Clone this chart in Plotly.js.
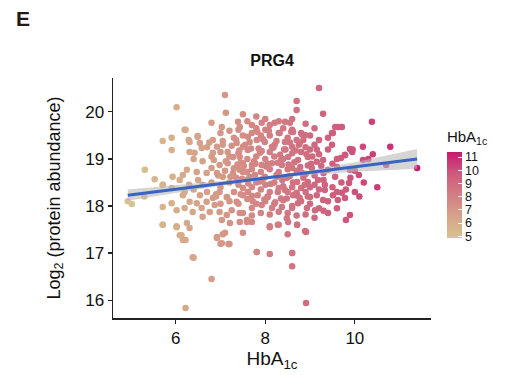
<!DOCTYPE html>
<html>
<head>
<meta charset="utf-8">
<script src="https://cdn.plot.ly/plotly-3.0.1.min.js"></script>
<style>html,body{margin:0;padding:0;background:#fff;}#chart{width:509px;height:375px;}</style>
</head>
<body>
<div id="chart"></div>
<script>
// HbA1c values (x) and Log2 protein abundance (y)
const hba1c = [
4.93,5.02,5.31,5.53,5.71,5.3,
6.02,7.1,7.12,9.2,8.7,8.7,9.29,10.38,10.79,11.39,10.18,10.7,10.18,9.62,9.71,9.49,9.89,9.78,9.69,10.09,9.89,9.87,9.89,
8.91,8.5,8.1,8.3,8.71,8.6,8.1,8.6,8.91,6.22,6.8,6.4,7.81,6.22,6.13,5.71,6.02,6.92,7.1,7.0,7.2,7.5,
5.71,5.91,5.91,6.22,6.29,6.49,
6.8,7.03,7.39,7.43,6.2,6.49,6.31,6.54,6.31,6.42,6.58,6.83,6.92,6.83,7.05,7.16,7.36,7.5,7.28,7.43,7.5,7.16,6.98,6.8,6.69,6.47,6.25,6.16,5.93,6.09,5.71,6.92,7.05,7.28,7.43,7.59,
7.7,7.92,8.1,8.21,8.44,8.55,8.62,8.89,8.77,9.56,9.51,9.49,9.78,9.94,
7.61,7.81,7.99,8.21,8.44,8.6,7.61,7.88,8.1,8.33,8.51,8.73,8.95,9.15,9.29,9.4,9.6,9.04,8.82,8.6,8.37,8.15,7.92,7.7,7.77,7.99,8.26,8.48,8.71,8.95,9.18,9.33,9.56,
5.71,5.91,6.02,6.2,6.31,6.47,6.38,6.58,6.69,6.83,6.6,6.76,6.87,6.98,7.14,7.03,7.25,7.43,7.43,7.21,7.59,7.36,7.5,7.14,6.98,6.54,6.16,5.91,5.71,6.02,6.25,6.31,6.09,6.16,6.92,7.05,7.03,7.18,6.38,
7.61,7.83,8.06,8.28,8.44,8.62,8.77,9.0,9.15,9.33,9.51,9.71,9.78,9.62,9.29,7.7,7.92,8.15,8.37,8.6,8.73,8.93,9.11,8.48,8.51,8.28,8.1,7.7,7.59,8.71,8.89,7.81,8.6,
7.2,7.4,7.6,7.8,8.0,8.2,8.4,8.6,8.8,9.0,9.2,
7.3,7.5,7.7,7.9,8.1,8.3,8.5,8.7,8.9,9.1,
7.1,7.3,7.5,7.7,7.9,8.1,8.3,8.5,8.7,8.9,9.1,9.3,
7.2,7.4,7.6,7.8,8.0,8.2,8.4,8.6,8.8,9.0,
7.3,7.5,7.7,7.9,8.1,8.3,8.5,8.7,8.9,9.1,
7.0,7.2,7.4,7.8,8.0,8.4,8.6,
6.6,6.8,7.0,6.7,6.9,6.5,6.4,6.3,6.2,6.6,6.8,7.0,6.4,6.7,
7.6,7.8,8.0,8.2,8.4,8.6,8.8,9.0,7.4,7.2,7.0,
7.5,7.7,7.9,8.1,8.3,8.5,8.7,8.9,9.1,9.3,
9.2,9.4,9.6,9.5,9.3,9.5,9.7,9.9,9.6,9.4,9.2,9.4,9.6,9.8,10.0,10.2,10.0,
8.8,9.0,9.2,9.4,8.3,8.0,7.6,7.5,7.8,8.6,8.9,9.1,
7.35,7.65,7.95,8.25,8.55,8.85,7.45,7.75,8.05,8.35,8.65,8.95,9.25,7.25,7.55,7.85,8.15,8.45,8.75,9.05,
6.9,7.15,7.45,7.7,8.05,8.35,8.65,8.95,6.75,7.05,7.35,7.65,7.95,8.25,8.55,8.85,9.15,
10.3,10.5,10.1,9.8,10.4,9.95,
7.62,7.88,8.12,8.38,8.62,8.88,7.52,7.78,8.02,8.28,8.52,8.78,9.02,7.42,7.68,7.92,8.18,8.42,8.68,8.92,
7.72,7.98,8.22,8.48,8.72,7.82,8.08,8.32,8.58,8.82,6.95,7.22,7.48,6.85,7.12,7.38
];
const abundance = [
18.1,18.04,18.77,18.57,18.45,18.2,
20.1,20.36,19.98,20.51,20.23,20.04,19.96,19.79,19.26,18.81,19.26,18.87,18.98,19.68,19.68,19.55,19.21,19.08,19.02,18.66,18.77,18.49,17.81,
17.45,17.4,17.57,17.6,17.6,17.0,16.98,16.72,15.94,15.83,16.45,16.9,17.02,17.28,17.38,17.6,17.57,17.32,17.43,17.2,17.19,17.43,
19.38,19.45,19.19,19.62,19.4,19.47,
19.77,19.68,19.79,19.68,19.62,19.49,19.36,19.34,19.15,19.13,19.23,19.4,19.26,19.13,19.3,19.15,19.34,19.26,19.04,19.04,18.91,18.91,18.87,18.81,18.7,18.72,18.77,18.66,18.62,18.55,18.45,18.7,18.62,18.7,18.77,18.72,
19.72,19.77,19.72,19.77,19.79,19.77,19.57,19.51,19.34,19.68,19.55,19.3,19.09,19.15,
19.47,19.4,19.36,19.3,19.36,19.26,19.19,19.13,19.15,19.09,19.04,18.98,19.04,18.94,18.98,18.77,18.83,18.81,18.7,18.81,18.87,18.91,18.87,18.87,18.66,18.62,18.62,18.6,18.51,18.51,18.55,18.45,18.62,
17.98,18.06,17.91,17.96,18.09,18.06,17.87,17.96,18.09,18.17,17.77,17.87,18.02,17.87,17.81,17.7,17.91,17.85,17.66,17.64,17.7,18.09,18.23,18.19,18.3,18.23,18.23,18.38,17.6,17.55,17.64,17.53,17.38,17.28,17.34,17.4,17.21,17.19,16.91,
18.3,18.23,18.19,18.3,18.34,18.23,18.17,18.19,18.23,18.34,18.23,18.28,18.17,18.13,18.13,17.96,18.02,17.96,17.98,17.96,18.06,17.96,17.91,17.74,17.66,17.6,17.55,17.66,17.66,17.6,17.47,17.02,17.0,
18.5,18.45,18.55,18.5,18.45,18.5,18.42,18.4,18.38,18.4,18.35,
18.3,18.38,18.4,18.35,18.3,18.38,18.3,18.28,18.3,18.45,
18.75,18.8,18.72,18.78,18.72,18.78,18.72,18.78,18.75,18.68,18.65,18.7,
19.05,19.12,19.0,19.05,19.0,19.05,19.0,19.12,19.15,19.2,
19.45,19.5,19.55,19.5,19.5,19.55,19.45,19.4,19.25,19.3,
19.55,19.6,19.62,19.65,19.62,19.65,19.62,
18.45,18.5,18.4,18.3,18.25,18.55,18.35,18.45,18.3,18.95,19.05,19.15,19.0,19.25,
18.15,18.05,18.1,18.05,18.12,18.0,18.1,18.05,18.05,18.1,18.05,
17.85,17.8,17.85,17.82,17.88,17.85,17.8,17.82,17.75,17.9,
19.1,19.2,19.0,18.9,18.55,18.4,18.5,18.6,18.3,18.1,17.95,17.85,17.95,18.35,18.75,18.5,18.3,
19.55,19.5,19.4,19.45,19.8,19.85,19.8,19.95,19.9,19.85,19.75,19.65,
18.6,18.62,18.58,18.66,18.64,18.6,18.92,18.95,18.9,18.97,18.93,18.86,18.85,19.28,19.3,19.22,19.26,19.2,19.3,19.05,
18.2,18.18,18.25,18.22,18.2,18.16,18.24,18.2,19.35,19.38,19.4,19.36,19.42,19.38,19.35,19.4,19.2,
19.0,18.4,18.2,17.7,19.1,19.2,
18.48,18.52,18.47,18.55,18.5,18.45,18.85,18.9,18.84,18.92,18.88,18.83,18.9,19.18,19.22,19.17,19.24,19.2,19.18,19.1,
18.1,18.14,18.08,18.16,18.22,19.58,19.6,19.55,19.58,19.52,18.65,18.62,18.58,18.98,18.95,18.88
];
// fitted regression line and 95% band
const fitX = [4.93, 11.39];
const fitY = [18.23, 19.0];
const bandX = [4.93, 6, 7, 8, 9, 10, 11.39];
const bandLo = [18.11, 18.28, 18.43, 18.57, 18.66, 18.73, 18.79];
const bandHi = [18.35, 18.44, 18.53, 18.63, 18.76, 18.93, 19.21];
const colorTicks = [5, 6, 7, 8, 9, 10, 11];

const polyX = bandX.concat(bandX.slice().reverse());
const polyY = bandHi.concat(bandLo.slice().reverse());

const font = 'Liberation Sans, Arial, sans-serif';
const traces = [
  {
    x: hba1c, y: abundance, type: 'scatter', mode: 'markers',
    marker: {
      size: 6.5, color: hba1c, cmin: 4.9, cmax: 11.4,
      colorscale: [[0, '#d8c48f'], [0.25, '#d6a389'], [0.5, '#d27e83'], [0.75, '#cd5a7d'], [1, '#c8186e']],
      line: {width: 0},
      colorbar: {
        title: {text: 'HbA<sub>1c</sub>', side: 'top', font: {size: 15, family: font, color: '#111'}},
        tickvals: colorTicks, ticktext: colorTicks.map(String),
        ticks: 'inside', ticklen: 4, tickcolor: '#ffffff', tickwidth: 1,
        tickfont: {size: 12.5, family: font, color: '#111'},
        thickness: 15, thicknessmode: 'pixels', len: 110, lenmode: 'pixels',
        x: 1.05, xanchor: 'left', y: 0.335, yanchor: 'bottom',
        outlinewidth: 0, xpad: 0, ypad: 0
      }
    },
    showlegend: false, hoverinfo: 'skip'
  },
  {
    x: polyX, y: polyY, type: 'scatter', mode: 'lines', fill: 'toself',
    fillcolor: 'rgba(185,185,185,0.6)', line: {width: 0}, showlegend: false, hoverinfo: 'skip'
  },
  {
    x: fitX, y: fitY, type: 'scatter', mode: 'lines',
    line: {color: '#3a63c2', width: 3}, showlegend: false, hoverinfo: 'skip'
  }
];

const layout = {
  width: 509, height: 375,
  margin: {l: 113, r: 78, t: 78, b: 57},
  paper_bgcolor: '#fff', plot_bgcolor: '#fff',
  font: {family: font, color: '#111'},
  title: {text: '<b>PRG4</b>', x: 0.5, xref: 'paper', xanchor: 'center', y: 0.84, yref: 'container', yanchor: 'middle', font: {size: 16, family: font, color: '#111'}},
  xaxis: {
    range: [4.6, 11.7], tickvals: [6, 8, 10], ticks: 'outside', ticklen: 4, tickwidth: 1.2, tickcolor: '#222',
    showline: true, linecolor: '#222', linewidth: 1.5, showgrid: false, zeroline: false,
    tickfont: {size: 17, family: font, color: '#111'},
    title: {text: 'HbA<sub>1c</sub>', font: {size: 19, family: font, color: '#111'}, standoff: 5}
  },
  yaxis: {
    range: [15.62, 20.72], tickvals: [16, 17, 18, 19, 20], ticks: 'outside', ticklen: 4, tickwidth: 1.2, tickcolor: '#222',
    showline: true, linecolor: '#222', linewidth: 1.5, showgrid: false, zeroline: false,
    tickfont: {size: 17, family: font, color: '#111'},
    title: {text: 'Log<sub>2</sub> (protein abundance)', font: {size: 18, family: font, color: '#111'}, standoff: 20}
  },
  annotations: [
    {text: '<b>E</b>', xref: 'paper', yref: 'paper', x: -0.31, y: 1.25, xanchor: 'left', yanchor: 'middle', showarrow: false, font: {size: 21, family: font, color: '#231815'}}
  ]
};

Plotly.newPlot('chart', traces, layout, {staticPlot: true, displayModeBar: false});
</script>
</body>
</html>
